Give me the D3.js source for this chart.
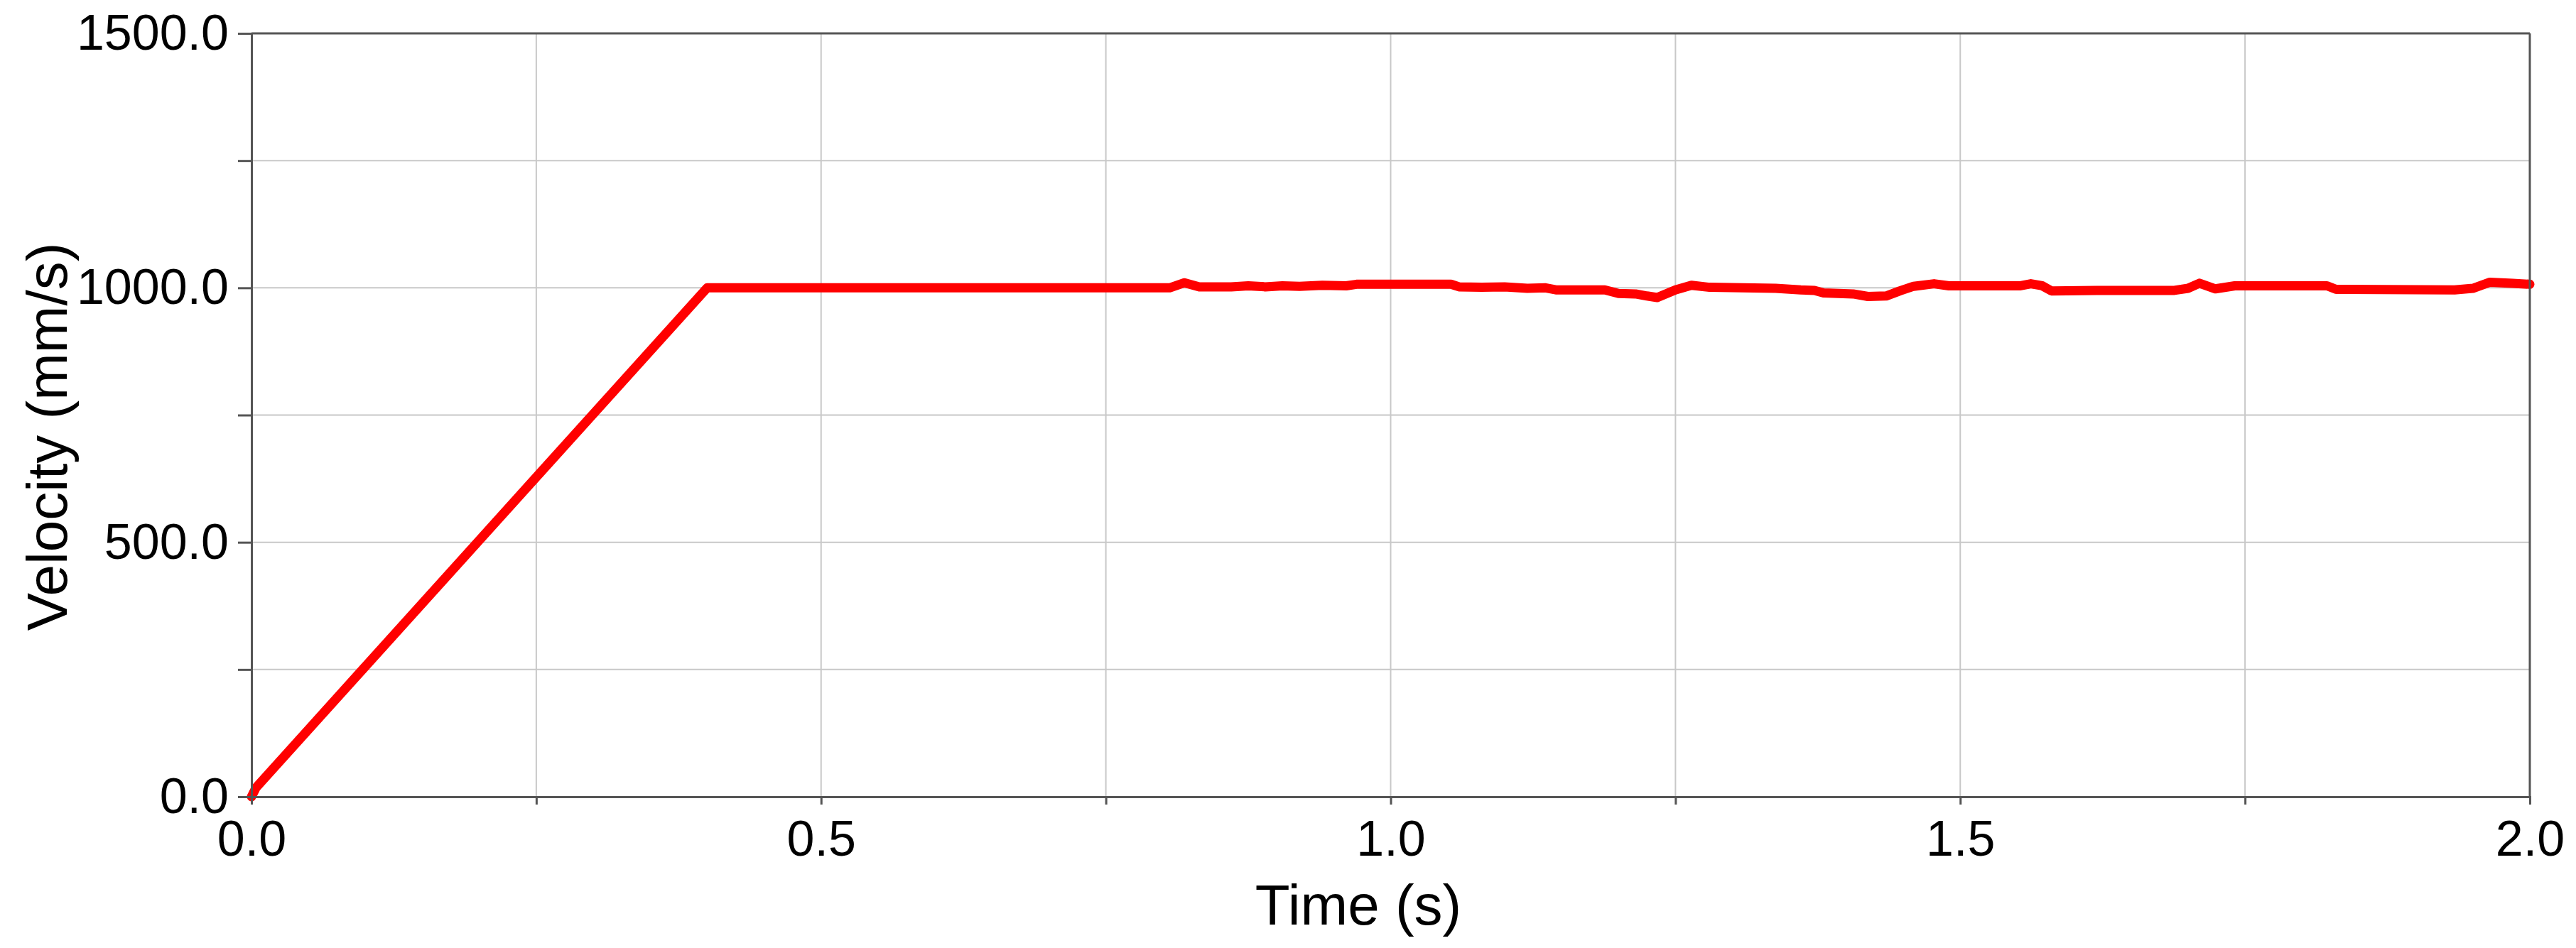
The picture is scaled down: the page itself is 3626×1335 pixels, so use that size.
<!DOCTYPE html>
<html>
<head>
<meta charset="utf-8">
<script src="https://cdn.jsdelivr.net/npm/d3@7"></script>
<style>
  html, body { margin: 0; padding: 0; background: #fff; }
  svg { display: block; }
  text { font-family: "Liberation Sans", Arial, sans-serif; fill: #000; }
</style>
</head>
<body>
<svg id="chart" width="3626" height="1335"></svg>
<script>
// ---- data ----
const timeS = [0, 0.004, 0.40, 0.806, 0.819, 0.832, 0.86, 0.875, 0.89, 0.905, 0.92, 0.94, 0.961, 0.97, 1.00, 1.053, 1.06, 1.08, 1.10, 1.12, 1.136, 1.145, 1.188, 1.20, 1.215, 1.225, 1.234, 1.25, 1.264, 1.28, 1.338, 1.36, 1.372, 1.38, 1.406, 1.419, 1.435, 1.447, 1.459, 1.477, 1.49, 1.553, 1.562, 1.572, 1.58, 1.62, 1.688, 1.70, 1.710, 1.724, 1.741, 1.822, 1.83, 1.934, 1.95, 1.965, 1.985, 2.0];
const velocity = [0, 18, 1000, 1000, 1010, 1002, 1002, 1004, 1002, 1004, 1003, 1005, 1004, 1007, 1007, 1007, 1002, 1001, 1002, 999, 1000, 996, 996, 989, 988, 984, 981, 996, 1005, 1001, 999, 996, 995, 990, 988, 983, 984, 994, 1003, 1008, 1004, 1004, 1008, 1004, 994, 995, 995, 999, 1009, 998, 1004, 1004, 997, 996, 999, 1011, 1009, 1007];
const xTicks = [0, 0.25, 0.5, 0.75, 1.0, 1.25, 1.5, 1.75, 2.0];
const xLabels = ["0.0", "", "0.5", "", "1.0", "", "1.5", "", "2.0"];
const yTicks = [0, 250, 500, 750, 1000, 1250, 1500];
const yLabels = ["0.0", "", "500.0", "", "1000.0", "", "1500.0"];
const xTitle = "Time (s)";
const yTitle = "Velocity (mm/s)";

// ---- layout ----
const L = 354, R = 3561, T = 47, B = 1122;
const svg = d3.select("#chart");
const x = d3.scaleLinear().domain([0, 2]).range([L, R]);
const y = d3.scaleLinear().domain([0, 1500]).range([B, T]);

// grid
const grid = svg.append("g");
grid.selectAll("line.gx").data(xTicks.slice(1, -1)).enter().append("line")
  .attr("x1", d => x(d)).attr("x2", d => x(d)).attr("y1", T).attr("y2", B)
  .attr("stroke", "#c8c8c8").attr("stroke-width", 2);
grid.selectAll("line.gy").data(yTicks.slice(1, -1)).enter().append("line")
  .attr("x1", L).attr("x2", R).attr("y1", d => y(d)).attr("y2", d => y(d))
  .attr("stroke", "#c8c8c8").attr("stroke-width", 2);

// line
const line = d3.line().x((d, i) => x(timeS[i])).y(d => y(d));
svg.append("path").datum(velocity)
  .attr("d", line).attr("fill", "none").attr("stroke", "#ff0000")
  .attr("stroke-width", 13).attr("stroke-linejoin", "round").attr("stroke-linecap", "round");

// axes
const axisColor = "#555";
const xAxis = d3.axisBottom(x).tickValues(xTicks).tickSize(11).tickFormat((d, i) => xLabels[i]).tickPadding(22);
const gx = svg.append("g").attr("transform", `translate(0,${B})`).call(xAxis);
gx.select(".domain").attr("stroke", axisColor).attr("stroke-width", 3);
gx.selectAll(".tick line").attr("stroke", axisColor).attr("stroke-width", 3);
gx.selectAll(".tick text").attr("font-size", 70).attr("font-family", "Liberation Sans, Arial, sans-serif").attr("fill", "#000");

const yAxis = d3.axisLeft(y).tickValues(yTicks).tickSize(19).tickFormat((d, i) => yLabels[i]).tickPadding(13);
const gy = svg.append("g").attr("transform", `translate(${L},0)`).call(yAxis);
gy.select(".domain").attr("stroke", axisColor).attr("stroke-width", 3);
gy.selectAll(".tick line").attr("stroke", axisColor).attr("stroke-width", 3);
gy.selectAll(".tick text").attr("font-size", 70).attr("font-family", "Liberation Sans, Arial, sans-serif").attr("fill", "#000");

// frame top & right
svg.append("line").attr("x1", L).attr("x2", R).attr("y1", T).attr("y2", T).attr("stroke", axisColor).attr("stroke-width", 3);
svg.append("line").attr("x1", R).attr("x2", R).attr("y1", T).attr("y2", B).attr("stroke", axisColor).attr("stroke-width", 3);

// titles
svg.append("text").attr("x", 1912).attr("y", 1302).attr("text-anchor", "middle")
  .attr("font-size", 80).text(xTitle);
svg.append("text").attr("transform", `translate(94,615) rotate(-90)`).attr("text-anchor", "middle")
  .attr("font-size", 80).text(yTitle);
</script>
</body>
</html>
